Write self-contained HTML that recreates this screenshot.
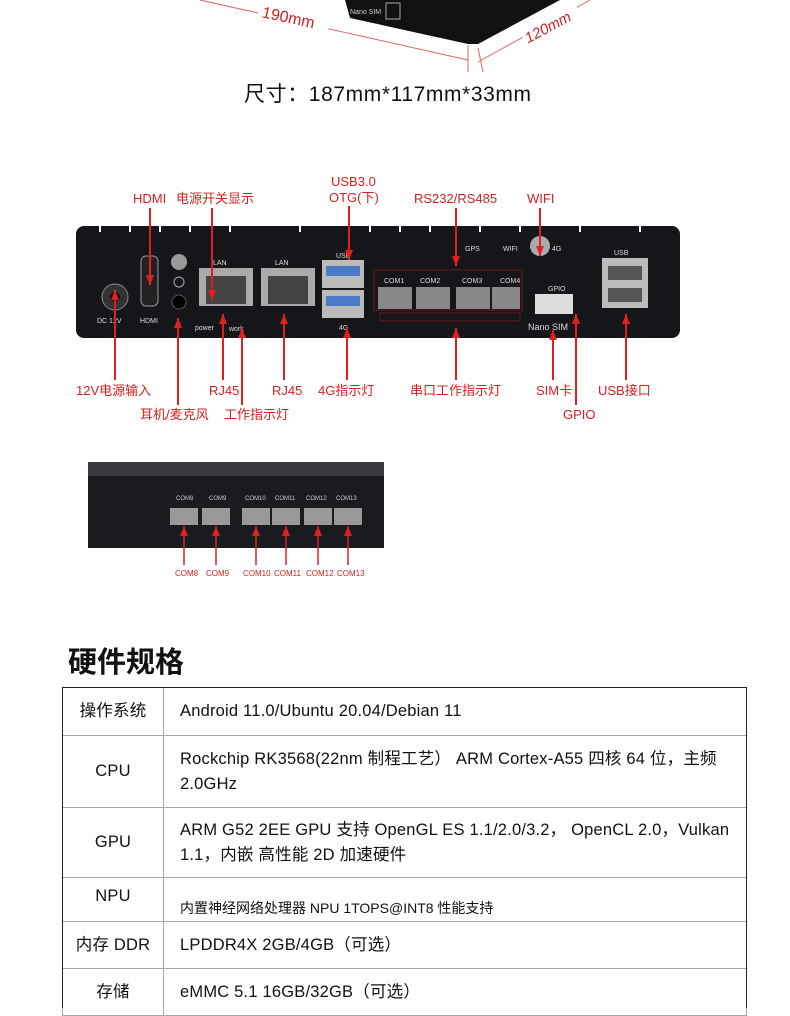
<!DOCTYPE html>
<html><head><meta charset="utf-8"><style>
html,body{margin:0;padding:0;background:#fff;}
body{width:790px;height:993px;overflow:hidden;position:relative;font-family:"Liberation Sans","Noto Sans CJK SC",sans-serif;}
svg text{font-family:"Liberation Sans","Noto Sans CJK SC",sans-serif;}
.t{position:absolute;left:62px;top:687px;width:685px;border-collapse:collapse;table-layout:fixed;font-size:16.5px;letter-spacing:.2px;color:#111;}
.t td{border:1px solid #aaa;padding:0 14px 0 16px;vertical-align:middle;line-height:25px;}
.t td:first-child{text-align:center;padding:0;}
</style></head><body>
<svg width="790" height="993" style="position:absolute;left:0;top:0">
<defs>
<marker id="b" markerWidth="10" markerHeight="8" refX="10" refY="4" orient="auto" markerUnits="userSpaceOnUse"><path d="M0,0 L10,4 L0,8 Z" fill="#e02020"/></marker></defs>
<polygon points="345,0 560,0 478,44 468,44 350,18" fill="#111"/>
<text x="350" y="14" font-size="7" fill="#ccc">Nano SIM</text>
<rect x="386" y="3" width="14" height="16" fill="none" stroke="#aaa"/>
<line x1="200" y1="0" x2="468" y2="60" stroke="#d66" stroke-width="1"/>
<line x1="478" y1="62" x2="590" y2="0" stroke="#d66" stroke-width="1"/>
<line x1="468" y1="45" x2="468" y2="72" stroke="#d66"/>
<line x1="478" y1="48" x2="483" y2="72" stroke="#d66"/>
<rect x="258" y="6" width="72" height="22" fill="#fff" transform="rotate(12 294 17)"/>
<text x="262" y="24" font-size="16" fill="#d02020" transform="rotate(12 294 17)">190mm</text>
<rect x="520" y="14" width="62" height="20" fill="#fff" transform="rotate(-28 550 25)"/>
<text x="522" y="31" font-size="15" fill="#d02020" font-style="italic" transform="rotate(-28 550 25)">120mm</text>
<text x="244" y="101" font-size="21" letter-spacing="0.6" fill="#111">尺寸：187mm*117mm*33mm</text>

<g font-size="13" fill="#d42020">
<text x="133" y="203">HDMI</text><text x="176" y="203">电源开关显示</text>
<text x="331" y="186">USB3.0</text><text x="329" y="202">OTG(下)</text>
<text x="414" y="203">RS232/RS485</text><text x="527" y="203">WIFI</text>
<text x="76" y="395">12V电源输入</text><text x="209" y="395">RJ45</text><text x="272" y="395">RJ45</text>
<text x="318" y="395">4G指示灯</text><text x="410" y="395">串口工作指示灯</text><text x="536" y="395">SIM卡</text><text x="598" y="395">USB接口</text>
<text x="140" y="419">耳机/麦克风</text><text x="224" y="419">工作指示灯</text><text x="563" y="419">GPIO</text>
</g>
<rect x="76" y="226" width="604" height="112" rx="8" fill="#15161a"/>
<g stroke="#fff" stroke-width="2">
<line x1="100" y1="226" x2="100" y2="232"/><line x1="130" y1="226" x2="130" y2="232"/><line x1="160" y1="226" x2="160" y2="232"/><line x1="190" y1="226" x2="190" y2="232"/><line x1="230" y1="226" x2="230" y2="232"/><line x1="300" y1="226" x2="300" y2="232"/><line x1="370" y1="226" x2="370" y2="232"/><line x1="400" y1="226" x2="400" y2="232"/><line x1="430" y1="226" x2="430" y2="232"/><line x1="480" y1="226" x2="480" y2="232"/><line x1="520" y1="226" x2="520" y2="232"/><line x1="580" y1="226" x2="580" y2="232"/><line x1="640" y1="226" x2="640" y2="232"/></g>
<circle cx="115" cy="297" r="13" fill="#333" stroke="#888"/><circle cx="115" cy="297" r="5" fill="#111"/>
<rect x="141" y="256" width="17" height="50" rx="5" fill="#222" stroke="#999"/>
<circle cx="179" cy="262" r="8" fill="#999"/><circle cx="179" cy="282" r="5" fill="none" stroke="#aaa"/>
<circle cx="179" cy="302" r="7" fill="#000" stroke="#555"/>
<rect x="199" y="268" width="54" height="38" fill="#aaa"/><rect x="206" y="276" width="40" height="28" fill="#444"/>
<rect x="261" y="268" width="54" height="38" fill="#aaa"/><rect x="268" y="276" width="40" height="28" fill="#444"/>
<rect x="322" y="260" width="42" height="28" fill="#bbb"/><rect x="326" y="266" width="34" height="10" fill="#4a7ac8"/>
<rect x="322" y="290" width="42" height="28" fill="#bbb"/><rect x="326" y="296" width="34" height="10" fill="#4a7ac8"/>
<rect x="374" y="270" width="148" height="40" fill="none" stroke="#6a1a1a"/>
<rect x="378" y="287" width="34" height="22" fill="#888"/><rect x="416" y="287" width="34" height="22" fill="#888"/><rect x="456" y="287" width="34" height="22" fill="#888"/><rect x="492" y="287" width="28" height="22" fill="#888"/>
<rect x="380" y="313" width="140" height="8" fill="none" stroke="#6a1a1a"/>
<circle cx="540" cy="246" r="10" fill="#aaa"/>
<rect x="535" y="294" width="38" height="20" fill="#ddd"/>
<rect x="602" y="258" width="46" height="50" fill="#bbb"/><rect x="608" y="266" width="34" height="14" fill="#555"/><rect x="608" y="288" width="34" height="14" fill="#555"/>
<g font-size="7" fill="#ddd"><text x="97" y="323">DC 12V</text><text x="140" y="323">HDMI</text><text x="213" y="265">LAN</text><text x="275" y="265">LAN</text><text x="195" y="330">power</text><text x="229" y="331">work</text><text x="336" y="258">USB</text><text x="339" y="330">4G</text><text x="465" y="251">GPS</text><text x="503" y="251">WIFI</text><text x="552" y="251">4G</text><text x="384" y="283">COM1</text><text x="420" y="283">COM2</text><text x="462" y="283">COM3</text><text x="500" y="283">COM4</text><text x="548" y="291">GPIO</text><text x="528" y="330" font-size="9">Nano SIM</text><text x="614" y="255">USB</text></g>
<g stroke="#e02020" stroke-width="2" fill="none">
<line x1="150" y1="208" x2="150" y2="285" marker-end="url(#b)"/>
<line x1="212" y1="208" x2="212" y2="300" marker-end="url(#b)"/>
<line x1="349" y1="206" x2="349" y2="260" marker-end="url(#b)"/>
<line x1="456" y1="208" x2="456" y2="266" marker-end="url(#b)"/>
<line x1="540" y1="208" x2="540" y2="256" marker-end="url(#b)"/>
<line x1="115" y1="380" x2="115" y2="290" marker-end="url(#b)"/>
<line x1="178" y1="405" x2="178" y2="318" marker-end="url(#b)"/>
<line x1="223" y1="380" x2="223" y2="314" marker-end="url(#b)"/>
<line x1="242" y1="405" x2="242" y2="328" marker-end="url(#b)"/>
<line x1="284" y1="380" x2="284" y2="314" marker-end="url(#b)"/>
<line x1="347" y1="380" x2="347" y2="328" marker-end="url(#b)"/>
<line x1="456" y1="380" x2="456" y2="328" marker-end="url(#b)"/>
<line x1="553" y1="380" x2="553" y2="330" marker-end="url(#b)"/>
<line x1="576" y1="405" x2="576" y2="314" marker-end="url(#b)"/>
<line x1="626" y1="380" x2="626" y2="314" marker-end="url(#b)"/>
</g>
<rect x="88" y="462" width="296" height="86" fill="#1a1b1f"/>
<rect x="88" y="462" width="296" height="14" fill="#3a3b40"/>
<g fill="#999"><rect x="170" y="508" width="28" height="17"/><rect x="202" y="508" width="28" height="17"/><rect x="242" y="508" width="28" height="17"/><rect x="272" y="508" width="28" height="17"/><rect x="304" y="508" width="28" height="17"/><rect x="334" y="508" width="28" height="17"/></g>
<g font-size="6" fill="#ccc"><text x="176" y="500">COM8</text><text x="209" y="500">COM9</text><text x="245" y="500">COM10</text><text x="275" y="500">COM11</text><text x="306" y="500">COM12</text><text x="336" y="500">COM13</text></g>
<g stroke="#e02020" stroke-width="1.5"><line x1="184" y1="565" x2="184" y2="526" marker-end="url(#b)"/><line x1="216" y1="565" x2="216" y2="526" marker-end="url(#b)"/><line x1="256" y1="565" x2="256" y2="526" marker-end="url(#b)"/><line x1="286" y1="565" x2="286" y2="526" marker-end="url(#b)"/><line x1="318" y1="565" x2="318" y2="526" marker-end="url(#b)"/><line x1="348" y1="565" x2="348" y2="526" marker-end="url(#b)"/></g>
<g font-size="8" fill="#d42020"><text x="175" y="576">COM8</text><text x="206" y="576">COM9</text><text x="243" y="576">COM10</text><text x="274" y="576">COM11</text><text x="306" y="576">COM12</text><text x="337" y="576">COM13</text></g>
<text x="68" y="672" font-size="29" font-weight="bold" fill="#111">硬件规格</text>
</svg>
<table class="t">
<colgroup><col style="width:101px"><col></colgroup>
<tr style="height:48px"><td>操作系统</td><td>Android 11.0/Ubuntu 20.04/Debian 11</td></tr>
<tr style="height:72px"><td>CPU</td><td>Rockchip RK3568(22nm 制程工艺） ARM Cortex-A55 四核 64 位，主频 2.0GHz</td></tr>
<tr style="height:70px"><td>GPU</td><td>ARM G52 2EE GPU 支持 OpenGL ES 1.1/2.0/3.2， OpenCL 2.0，Vulkan 1.1，内嵌 高性能 2D 加速硬件</td></tr>
<tr style="height:44px"><td style="vertical-align:top;padding-top:6px">NPU</td><td style="font-size:14px;letter-spacing:0;vertical-align:bottom">内置神经网络处理器 NPU 1TOPS@INT8 性能支持</td></tr>
<tr style="height:47px"><td>内存 DDR</td><td>LPDDR4X 2GB/4GB（可选）</td></tr>
<tr style="height:47px"><td>存储</td><td>eMMC 5.1 16GB/32GB（可选）</td></tr>
</table>
<div style="position:absolute;left:62px;top:687px;width:683px;height:320px;border:1px solid #222;border-bottom:none;pointer-events:none"></div>
</body></html>
